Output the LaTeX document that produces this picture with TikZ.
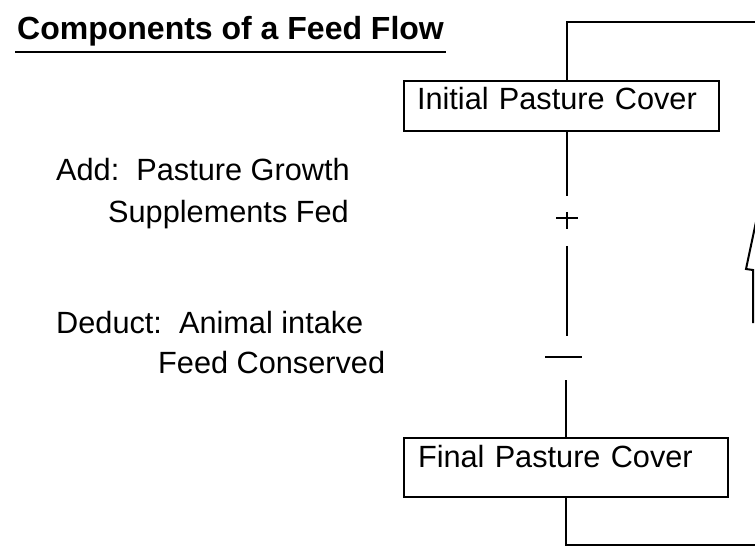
\documentclass[tikz,border=0pt]{standalone}
\usepackage{fontspec}
\setmainfont{Liberation Sans}
\begin{document}
\begin{tikzpicture}[x=1pt,y=1pt,
  lbl/.style={anchor=base west, inner sep=0pt, font=\fontsize{30.7}{36}\selectfont},
  titlestyle/.style={anchor=base west, inner xsep=2pt, inner ysep=12pt, text depth=0pt, font=\fontsize{32}{38}\selectfont\bfseries},
  box/.style={draw, line width=1.4pt, outer sep=0pt, anchor=base west, inner ysep=0pt, align=left, font=\fontsize{30.7}{36}\selectfont},
  conn/.style={line width=1.6pt},
  sign/.style={line width=1.3pt},
  blockarrow/.style={line width=2pt, line join=miter}]
\useasboundingbox (0,0) rectangle (755,555);
\fill[white] (0,0) rectangle (755,555);
\begin{scope}
\clip (0,0) rectangle (755,555);

% title
\node[titlestyle] (title) at (15,515) {Components of a Feed Flow};
\draw[line width=2pt] (title.south west) -- (title.south east);

% labels
\node[lbl] (add) at (56,374) {Add:\ \ Pasture Growth};
\node[lbl] (supp) at (108,332) {Supplements Fed};
\node[lbl] (deduct) at (56,222) {Deduct:\ \ Animal intake};
\node[lbl] (feedc) at (158,182) {Feed Conserved};

% boxes
\node[box, inner xsep=13pt, text width=289pt, text height=29pt, text depth=21pt] (init) at (404,445) {Initial Pasture Cover};
\node[box, inner xsep=14pt, text width=296pt, text height=29pt, text depth=30pt] (final) at (404,88) {Final Pasture Cover};

% spine coordinates
\coordinate (plus) at (567,337);
\coordinate (minus) at (566,198);
\coordinate (topcorner) at (567,533);
\coordinate (topend) at (760,533);
\coordinate (botcorner) at (566,10);
\coordinate (botend) at (760,10);

% connectors
\draw[conn] (init.north -| topcorner) -- (topcorner) -- (topend);
\draw[conn] (init.south -| plus) -- ([yshift=22pt]plus);
\draw[conn] ([yshift=-28pt]plus) -- ([yshift=-118pt]plus);
\draw[conn] ([yshift=-23pt]minus) -- (final.north -| minus);
\draw[conn] (final.south -| botcorner) -- (botcorner) -- (botend);

% plus and minus signs
\draw[sign] ([xshift=-11pt]plus) -- ([xshift=11pt]plus);
\draw[sign] ([yshift=6pt]plus) -- ([yshift=-11pt]plus);
\draw[line width=1.6pt] ([xshift=-21pt]minus) -- ([xshift=16pt]minus);

% block arrow at the right edge (partly outside the picture)
\coordinate (shaftbot) at (753,232);
\coordinate (headbase) at (753,285);
\coordinate (headleft) at (746,286);
\coordinate (headtip) at (760,352);
\draw[blockarrow] (shaftbot) -- (headbase) -- (headleft) -- (headtip);
\end{scope}
\end{tikzpicture}
\end{document}
